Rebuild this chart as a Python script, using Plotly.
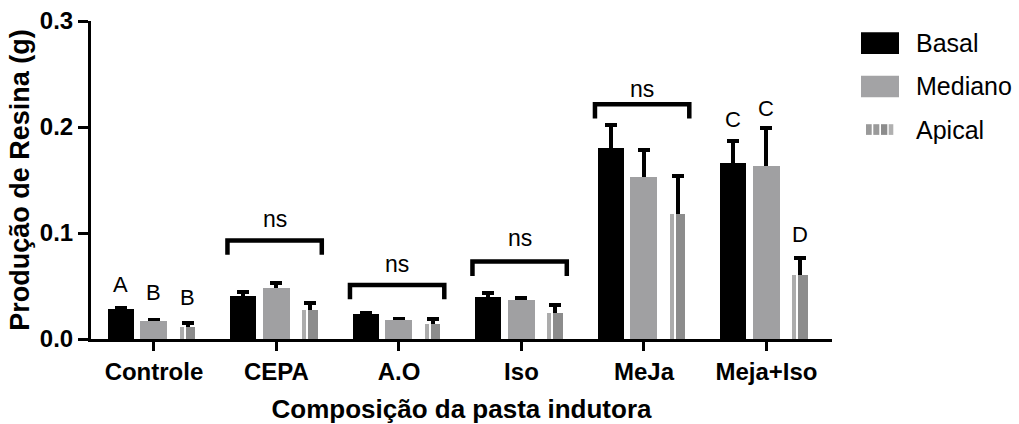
import plotly.graph_objects as go

categories = ["Controle", "CEPA", "A.O", "Iso", "MeJa", "Meja+Iso"]
basal = [0.028, 0.041, 0.024, 0.040, 0.180, 0.166]
basal_err = [0.001, 0.003, 0.001, 0.003, 0.022, 0.021]
mediano = [0.017, 0.048, 0.018, 0.037, 0.153, 0.163]
mediano_err = [0.001, 0.005, 0.001, 0.002, 0.025, 0.036]
apical = [0.011, 0.027, 0.0145, 0.025, 0.118, 0.060]
apical_err = [0.004, 0.007, 0.0045, 0.007, 0.036, 0.016]

y_ticks = [0.0, 0.1, 0.2, 0.3]

# significance brackets: category index, bracket height
bracket_cats = [1, 2, 3, 4]
bracket_y = [0.093, 0.051, 0.073, 0.2215]
ns_y = [0.1133, 0.0706, 0.0953, 0.236]

# letter labels: category index, series index, y, text
letter_cats = [0, 0, 0, 5, 5, 5]
letter_series = [0, 1, 2, 0, 1, 2]
letter_y = [0.0517, 0.044, 0.0392, 0.2067, 0.2178, 0.099]
letter_text = ["A", "B", "B", "C", "C", "D"]

x = list(range(len(categories)))
offsets_center = [-0.272, 0.0, 0.274]
w_basal, w_med, w_ap = 0.213, 0.22, 0.128

BOLD = "Liberation Sans"
err_style = dict(type="data", symmetric=False, color="black", thickness=4, width=6)


def lower(vals):
    # lower arm hidden inside the bar (bar drawn on top of it)
    return [v * 0.5 for v in vals]


fig = go.Figure()

# error bars first (transparent bars), then the coloured bars on top hide the lower arm
fig.add_bar(x=x, y=basal, width=w_basal, offset=offsets_center[0] - w_basal / 2,
            marker=dict(color="rgba(0,0,0,0)", line=dict(width=0)), showlegend=False,
            error_y=dict(array=basal_err, arrayminus=lower(basal), **err_style))
fig.add_bar(x=x, y=mediano, width=w_med, offset=offsets_center[1] - w_med / 2,
            marker=dict(color="rgba(0,0,0,0)", line=dict(width=0)), showlegend=False,
            error_y=dict(array=mediano_err, arrayminus=lower(mediano), **err_style))
ap_left = offsets_center[2] - w_ap / 2
fig.add_bar(x=x, y=apical, width=w_ap, offset=ap_left,
            marker=dict(color="rgba(0,0,0,0)", line=dict(width=0)), showlegend=False,
            error_y=dict(array=apical_err, arrayminus=lower(apical), **err_style))

fig.add_bar(x=x, y=basal, width=w_basal, offset=offsets_center[0] - w_basal / 2,
            marker=dict(color="#000000", line=dict(width=0)), showlegend=False)
fig.add_bar(x=x, y=mediano, width=w_med, offset=offsets_center[1] - w_med / 2,
            marker=dict(color="#a0a0a2", line=dict(width=0)), showlegend=False)
# apical striped bar: light part, white line, darker part
fig.add_bar(x=x, y=apical, width=w_ap, offset=ap_left,
            marker=dict(color="#acacac", line=dict(width=0)), showlegend=False)
fig.add_bar(x=x, y=apical, width=w_ap * 0.14, offset=ap_left + w_ap * 0.26,
            marker=dict(color="#ffffff", line=dict(width=0)), showlegend=False)
fig.add_bar(x=x, y=apical, width=w_ap * 0.60, offset=ap_left + w_ap * 0.40,
            marker=dict(color="#8c8c8c", line=dict(width=0)), showlegend=False)

shapes = []
annotations = []
for c, yb, yn in zip(bracket_cats, bracket_y, ns_y):
    x0, x1 = c - 0.40, c + 0.37
    shapes.append(dict(type="path", xref="x", yref="y",
                       path=f"M {x0},{yb - 0.0135} L {x0},{yb} L {x1},{yb} L {x1},{yb - 0.0135}",
                       line=dict(color="black", width=4.5)))
    annotations.append(dict(x=(x0 + x1) / 2, y=yn, xref="x", yref="y", text="ns",
                            showarrow=False, yanchor="middle",
                            font=dict(family="Liberation Sans", size=23, color="black")))
for c, s, yl, t in zip(letter_cats, letter_series, letter_y, letter_text):
    annotations.append(dict(x=c + offsets_center[s], y=yl, xref="x", yref="y", text=t,
                            showarrow=False, yanchor="middle",
                            font=dict(family="Liberation Sans", size=22, color="black")))


# custom legend
def px2paper_x(px):
    return (px - 91) / 741.0


def py2paper_y(py):
    return (339.3 - py) / 318.3


legend_items = [("Basal", 32.3, 54, "#000000"), ("Mediano", 75.7, 97.3, "#a3a3a5")]
for name, top, bot, col in legend_items:
    shapes.append(dict(type="rect", xref="paper", yref="paper",
                       x0=px2paper_x(861), x1=px2paper_x(899),
                       y0=py2paper_y(bot), y1=py2paper_y(top),
                       fillcolor=col, line=dict(width=0)))
    annotations.append(dict(x=px2paper_x(914), y=py2paper_y((top + bot) / 2), xref="paper", yref="paper",
                            text=name, showarrow=False, xanchor="left", yanchor="middle",
                            font=dict(family="Liberation Sans", size=25, color="black")))
blocks = [(866, 871.7, "#9a9a9a"), (873.3, 879.3, "#9a9a9a"), (881, 887.3, "#8c8c8c"), (888.7, 893.3, "#b0b0b0")]
for bx0, bx1, col in blocks:
    shapes.append(dict(type="rect", xref="paper", yref="paper",
                       x0=px2paper_x(bx0), x1=px2paper_x(bx1),
                       y0=py2paper_y(135), y1=py2paper_y(124.3),
                       fillcolor=col, line=dict(width=0)))
annotations.append(dict(x=px2paper_x(914), y=py2paper_y(130), xref="paper", yref="paper",
                        text="Apical", showarrow=False, xanchor="left", yanchor="middle",
                        font=dict(family="Liberation Sans", size=25, color="black")))

fig.update_layout(
    width=1019, height=424,
    margin=dict(l=91, r=187, t=21, b=85, pad=0, autoexpand=False),
    paper_bgcolor="white", plot_bgcolor="white",
    barmode="overlay", bargap=0,
    shapes=shapes, annotations=annotations,
    showlegend=False,
    font=dict(family=BOLD, color="black"),
)
fig.update_xaxes(
    range=[-0.514, 5.535], tickmode="array", tickvals=x,
    ticktext=[f"<b>{c}</b>" for c in categories],
    tickfont=dict(family=BOLD, size=24, color="black"),
    showline=True, linecolor="black", linewidth=3,
    ticks="outside", ticklen=9, tickwidth=3, tickcolor="black",
    showgrid=False, zeroline=False, automargin=False,
    title=dict(text="<b>Composição da pasta indutora</b>", font=dict(family=BOLD, size=26, color="black"), standoff=17),
)
fig.update_yaxes(
    range=[0, 0.3], tickmode="array", tickvals=y_ticks,
    ticktext=[f"<b>{v:.1f}</b>" for v in y_ticks],
    tickfont=dict(family=BOLD, size=24, color="black"),
    showline=True, linecolor="black", linewidth=3,
    ticks="outside", ticklen=10, tickwidth=3, tickcolor="black",
    showgrid=False, zeroline=False, automargin=False,
    title=dict(text="<b>Produção de Resina (g)</b>", font=dict(family=BOLD, size=27, color="black"), standoff=3),
)

fig.write_html("out.html")
